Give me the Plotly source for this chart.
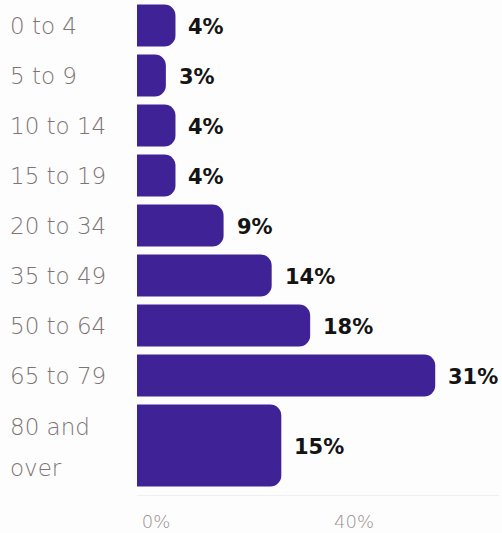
import plotly.graph_objects as go

# ---- data ----
categories = ["0 to 4", "5 to 9", "10 to 14", "15 to 19", "20 to 34",
              "35 to 49", "50 to 64", "65 to 79", "80 and<br>over"]
values = [4, 3, 4, 4, 9, 14, 18, 31, 15]
value_labels = ["4%", "3%", "4%", "4%", "9%", "14%", "18%", "31%", "15%"]
axis_tick_values = [0, 40]
axis_tick_labels = ["0%", "40%"]

# ---- layout helpers (row slots derived from label line counts) ----
BAR_COLOR = "#3f2396"
LABEL_COLOR = "#7e7474"
GAP = 0.16
slots = [1.0 if "<br>" not in c else 1.8 for c in categories]
positions, widths = [], []
edge = -0.5
for s in slots:
    positions.append(edge + s / 2)
    widths.append(s - GAP)
    edge += s

fig = go.Figure()
fig.add_trace(go.Bar(
    x=values, y=positions, width=widths, orientation="h",
    marker=dict(color=BAR_COLOR, line=dict(width=0)),
    hoverinfo="skip", showlegend=False,
))

annotations = []
for cat, pos, val, lab in zip(categories, positions, values, value_labels):
    annotations.append(dict(
        x=val, y=pos, xref="x", yref="y", text=f"<b>{lab}</b>",
        showarrow=False, xanchor="left", yanchor="middle", xshift=11, yshift=-1,
        font=dict(family="DejaVu Sans", size=21, color="#141414"),
    ))
    lines = cat.split("<br>")
    n = len(lines)
    for k, line in enumerate(lines):
        annotations.append(dict(
            x=0, y=pos, xref="paper", yref="y", text=line,
            showarrow=False, xanchor="left", yanchor="middle",
            xshift=-129, yshift=(n - 1) * 19 - k * 41,
            font=dict(family="DejaVu Sans", size=23, color=LABEL_COLOR, weight=200),
        ))

PLOT_L, PLOT_R_MARGIN = 137, 3
plot_w = 502 - PLOT_L - PLOT_R_MARGIN
px_per_unit = 9.62
x_max = plot_w / px_per_unit
# secondary axis for the printed tick labels
t0_px, t40_px = 156 - PLOT_L, 354 - PLOT_L
u2 = (t40_px - t0_px) / 40.0
x2_range = [-t0_px / u2, (plot_w - t0_px) / u2]

fig.add_trace(go.Scatter(x=[None], y=[None], xaxis="x2", mode="markers",
                         showlegend=False, hoverinfo="skip"))

fig.update_layout(
    width=502, height=533,
    margin=dict(l=PLOT_L, r=PLOT_R_MARGIN, t=0, b=38),
    paper_bgcolor="#fdfdfd", plot_bgcolor="#fdfdfd",
    barcornerradius=11,
    xaxis=dict(range=[0, x_max], showgrid=False, zeroline=False,
               showticklabels=False, showline=True, linecolor="#f0f0f0",
               fixedrange=True),
    xaxis2=dict(range=x2_range, overlaying="x", side="bottom",
                tickvals=axis_tick_values, ticktext=axis_tick_labels,
                showgrid=False, zeroline=False, showline=False,
                ticks="", ticklabelstandoff=14,
                tickfont=dict(family="DejaVu Sans", size=18, color="#9a9090", weight=200)),
    yaxis=dict(range=[edge + 0.09, -0.51], showgrid=False, zeroline=False,
               showticklabels=False, fixedrange=True),
    annotations=annotations,
)

fig.write_html(
    "out.html",
    config={"displayModeBar": False},
    post_script="document.body.style.margin='0';document.body.style.overflow='hidden';",
)
